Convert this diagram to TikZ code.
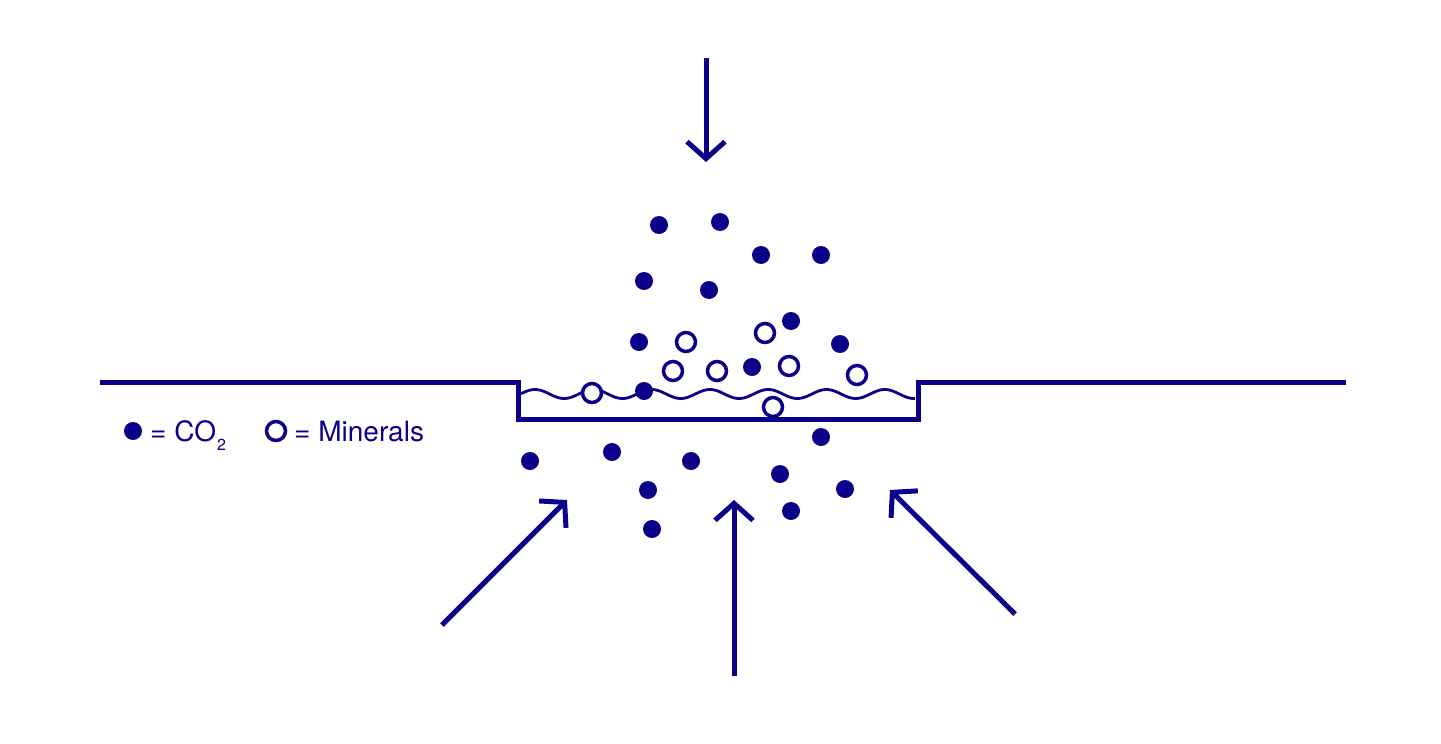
\documentclass[tikz,border=0pt]{standalone}
\usepackage{fontspec}
\setmainfont{TeX Gyre Heros}
\usetikzlibrary{arrows.meta}
\definecolor{navy}{RGB}{12,0,138}
\begin{document}
\begin{tikzpicture}[x=1pt,y=-1pt,
  co/.style={circle,fill=navy,inner sep=0pt,minimum size=18pt},
  mineral/.style={circle,draw=navy,line width=3.5pt,fill=white,inner sep=0pt,minimum size=19pt},
  ground/.style={navy,line width=5pt},
  wave/.style={navy,line width=2.8pt},
  flow/.style={navy,line width=5pt,-{Straight Barb[length=17pt,width=38pt]}},
  lbl/.style={text=navy,font=\fontsize{28}{33}\selectfont,anchor=base west,inner sep=0pt}]
\useasboundingbox (0,0) rectangle (1441,744);
% ground
\coordinate (gl) at (100,382);
\coordinate (p1) at (518,382);
\coordinate (p2) at (518,419);
\coordinate (p3) at (918,419);
\coordinate (p4) at (918,382);
\coordinate (gr) at (1346,382);
\draw[ground] (gl) -- (p1) -- (p2) -- (p3) -- (p4) -- (gr);
% water surface
\draw[wave] plot[domain=0:394,samples=240] ({521+\x},{394-4.5*cos(((\x-14)/58.3)*360)});
% arrows
\coordinate (t0) at (706,58);
\coordinate (t1) at (706,162);
\draw[flow] (t0) -- (t1);
\coordinate (a0) at (442,625);
\coordinate (a1) at (567,500);
\draw[flow] (a0) -- (a1);
\coordinate (b0) at (734,676);
\coordinate (b1) at (734,500);
\draw[flow] (b0) -- (b1);
\coordinate (c0) at (1015,614);
\coordinate (c1) at (890,490);
\draw[flow] (c0) -- (c1);
% CO2 dots
\foreach \n/\p in {d1/{659,225},d2/{720,222},d3/{761,255},d4/{821,255},d5/{644,281},
  d6/{709,290},d7/{791,321},d8/{639,342},d9/{840,344},d10/{752,367},d11/{644,391},
  d12/{821,437},d13/{530,461},d14/{612,452},d15/{691,461},d16/{780,474},d17/{648,490},
  d18/{845,489},d19/{791,511},d20/{652,529}}
  \node[co] (\n) at (\p) {};
% minerals
\foreach \n/\p in {m1/{686,342},m2/{765,333},m3/{673,371},m4/{717,371},m5/{789,366},
  m6/{857,375},m7/{592,393},m8/{773,407}}
  \node[mineral] (\n) at (\p) {};
% legend
\node[co] (lco) at (133,431) {};
\node[lbl] (tco) at (150,441) {= CO\kern1pt\raisebox{-9pt}{\fontsize{16}{18}\selectfont 2}};
\node[mineral] (lmin) at (276,431) {};
\node[lbl] (tmin) at (294,441) {= Minerals};
\end{tikzpicture}
\end{document}
